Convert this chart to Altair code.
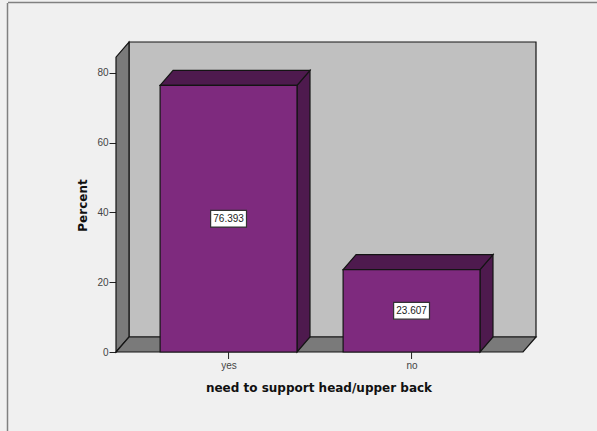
import altair as alt
import pandas as pd

categories = ["yes", "no"]
percents = [76.393, 23.607]
percent_labels = ["76.393", "23.607"]
y_ticks = [0, 20, 40, 60, 80]

X_MIN, X_MAX = -0.615, 1.68      # horizontal range, one unit per category
Y_MAX = 88.83                    # vertical range, in percent
WALL_TOP = 84.5                  # height of the front edge of the side wall
DEPTH_X, DEPTH_Y = 0.071, 4.3    # receding offset of the 3D box
BAR_HALF = 0.374
BOX_HALF_X, BOX_HALF_Y = 0.098, 2.4

PLOT_W, PLOT_H = 420, 310
x_scale = alt.Scale(domain=[X_MIN, X_MAX], nice=False, zero=False)
y_scale = alt.Scale(domain=[0, Y_MAX], nice=False, zero=False)

# axes carry tick labels and titles; the box outlines act as axis lines
x_axis = alt.Axis(
    values=[0, 1],
    labelExpr="datum.value < 0.5 ? '%s' : '%s'" % tuple(categories),
    title="need to support head/upper back",
    titleFont="DejaVu Sans",
    titleFontWeight="bold",
    titleFontSize=12,
    titleColor="#111111",
    titleX=202.5,
    titleY=39,
    titleBaseline="alphabetic",
    labelFont="Liberation Sans",
    labelFontSize=10,
    labelColor="#444444",
    labelPadding=8,
    ticks=False,
    domain=False,
    grid=False,
)
y_axis = alt.Axis(
    values=y_ticks,
    title="Percent",
    titleFont="DejaVu Sans",
    titleFontWeight="bold",
    titleFontSize=12,
    titleColor="#111111",
    titleX=-27,
    titleY=163,
    labelFont="Liberation Sans",
    labelFontSize=10,
    labelColor="#444444",
    labelPadding=1,
    ticks=True,
    tickColor="#222222",
    tickWidth=1,
    tickSize=7,
    domain=False,
    grid=False,
)
X = alt.X("x:Q", scale=x_scale, axis=x_axis)
Y = alt.Y("y:Q", scale=y_scale, axis=y_axis)

EDGE = "#141414"


def face(rows, fill, stroke=EDGE, width=1.2):
    """A filled box face given as (x, lower y, upper y) rows."""
    frame = pd.DataFrame(rows, columns=["x", "y", "y2"])
    return (
        alt.Chart(frame)
        .mark_area(fill=fill, stroke=stroke, strokeWidth=width, opacity=1)
        .encode(X, Y, y2="y2:Q")
    )


def rectangle(left, right, low, high, fill, stroke=EDGE, width=1.2):
    frame = pd.DataFrame([{"x": left, "x2": right, "y": low, "y2": high}])
    return (
        alt.Chart(frame)
        .mark_rect(fill=fill, stroke=stroke, strokeWidth=width)
        .encode(X, x2="x2:Q", y=Y, y2="y2:Q")
    )


floor_right = X_MAX - DEPTH_X
layers = [
    # back wall, side wall and floor of the box
    rectangle(X_MIN + DEPTH_X, X_MAX, DEPTH_Y, Y_MAX, "#c0c0c0"),
    face(
        [(X_MIN, 0, WALL_TOP), (X_MIN + DEPTH_X, DEPTH_Y, WALL_TOP + DEPTH_Y)],
        "#7a7a7a",
    ),
    face(
        [
            (X_MIN, 0, 0),
            (X_MIN + DEPTH_X, 0, DEPTH_Y),
            (floor_right, 0, DEPTH_Y),
            (X_MAX, DEPTH_Y, DEPTH_Y),
        ],
        "#7a7a7a",
    ),
]

# each bar: side face, top face, front face
for i, value in enumerate(percents):
    left, right = i - BAR_HALF, i + BAR_HALF
    layers += [
        face(
            [(right, 0, value), (right + DEPTH_X, DEPTH_Y, value + DEPTH_Y)],
            "#4e1a4e",
        ),
        face(
            [
                (left, value, value),
                (left + DEPTH_X, value, value + DEPTH_Y),
                (right, value, value + DEPTH_Y),
                (right + DEPTH_X, value + DEPTH_Y, value + DEPTH_Y),
            ],
            "#4e1a4e",
        ),
        rectangle(left, right, 0, value, "#7e2a7e"),
    ]

# value labels in white boxes, centred on the front faces
for i, (value, label) in enumerate(zip(percents, percent_labels)):
    mid = value / 2
    layers.append(
        rectangle(
            i - BOX_HALF_X, i + BOX_HALF_X, mid - BOX_HALF_Y, mid + BOX_HALF_Y,
            "#ffffff", "#333333",
        )
    )
    layers.append(
        alt.Chart(pd.DataFrame([{"x": i, "y": mid, "t": label}]))
        .mark_text(font="Liberation Sans", fontSize=10, color="#222222", baseline="middle")
        .encode(X, Y, text="t:N")
    )

# category ticks hanging below the front edge of the floor
category_ticks = (
    alt.Chart(pd.DataFrame({"x": list(range(len(categories)))}))
    .mark_rule(color="#222222", strokeWidth=1)
    .encode(X, y=alt.value(PLOT_H), y2=alt.value(PLOT_H + 7))
)

# thin frame along the top and left of the canvas
frame_top = (
    alt.Chart(pd.DataFrame({"a": [0]}))
    .mark_rule(color="#808080", strokeWidth=1.5)
    .encode(x=alt.value(-108), x2=alt.value(481), y=alt.value(-39.5))
)
frame_left = (
    alt.Chart(pd.DataFrame({"a": [0]}))
    .mark_rule(color="#808080", strokeWidth=1.5)
    .encode(x=alt.value(-108.5), y=alt.value(-39), y2=alt.value(389))
)

chart = (
    alt.layer(frame_top, frame_left, *layers, category_ticks)
    .properties(
        width=PLOT_W,
        height=PLOT_H,
        background="#f0f0f0",
        autosize=alt.AutoSizeParams(type="none"),
        padding={"left": 116, "top": 42, "right": 61, "bottom": 79},
    )
    .configure_view(stroke=None)
)

chart.save("out.html", embed_options={"renderer": "svg", "actions": False})
